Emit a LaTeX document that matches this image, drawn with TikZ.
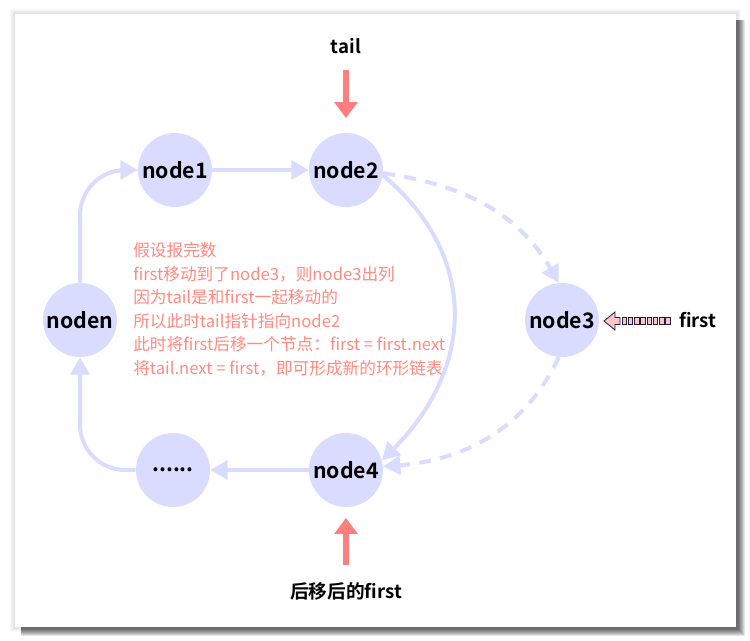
\documentclass[tikz,border=0pt]{standalone}
\usepackage{fontspec}
\setmainfont{Noto Sans CJK SC}[BoldFont={* Bold}]
\usepackage{xcolor}
\usetikzlibrary{arrows.meta}
\definecolor{ringblue}{HTML}{D9DCFE}
\definecolor{tailred}{HTML}{FF7F7F}
\definecolor{notered}{HTML}{FF8A80}
\definecolor{stripepink}{HTML}{FFC4C4}
\definecolor{stripeline}{HTML}{1F1F3F}
\newcommand{\stripebox}[1]{
	\draw[stripeline, fill=stripepink, line width=0.6pt] (#1,-317.5) rectangle (#1+4.5,-324.5);
}

\begin{document}
\begin{tikzpicture}[x=0.75pt, y=0.75pt,
	ring/.style={circle, fill=ringblue, minimum size=55.5pt, inner sep=0pt, font=\bfseries\fontsize{16}{18}\selectfont},
	link/.style={draw=ringblue, line width=3pt, -{Triangle[length=13pt,width=14pt]}},
	dashlink/.style={link, dash pattern=on 9pt off 7pt},
	ptr/.style={draw=tailred, line width=4.5pt, -{Triangle[length=12pt,width=17pt]}},
	lbl/.style={font=\bfseries\fontsize{14}{16}\selectfont}]
	\useasboundingbox (0,0) rectangle (750,-641);
	%shadow
	\foreach \s in {1,...,5}
		\fill[black, opacity=0.025] (15-\s,-14+\s) rectangle (736+\s,-627-\s);
	\foreach \s in {0,...,6}
		\fill[black, opacity=0.1] (21,-20) rectangle (745-\s,-636+\s);
	\fill[white] (15,-14) rectangle (736,-627);
	%
	%ring
	\node[ring] (node1) at (175,-170) {node1};
	\node[ring] (node2) at (346,-170) {node2};
	\node[ring] (node3) at (562,-320) {node3};
	\node[ring] (noden) at (80,-320) {noden};
	\node[ring] (dots) at (173,-470) {......};
	\node[ring] (node4) at (346,-470) {node4};
	%
	\draw[link] (node1) -- (node2);
	\draw[link] (node4) -- (dots);
	\draw[link, rounded corners=34pt] (noden) |- (node1);
	\draw[link, rounded corners=34pt] (dots) -| (noden);
	\draw[link] (node2.-8) to[out=-40, in=45, looseness=1.15] (node4.15);
	\draw[dashlink] (node2.-5) to[out=-8, in=120] (node3.95);
	\draw[dashlink] (node3.-95) to[out=-115, in=5] (node4.5);
	%
	%note
	\node[anchor=north west, align=left, inner sep=0pt, text=notered,
		font=\fontsize{12.5}{17.7}\selectfont] (note) at (133,-242)
	{假设报完数\\
	first移动到了node3，则node3出列\\
	因为tail是和first一起移动的\\
	所以此时tail指针指向node2\\
	此时将first后移一个节点：first = first.next\\
	将tail.next = first，即可形成新的环形链表};
	%
	%pointers
	\node[lbl] (taillbl) at (346,-46) {tail};
	\node[lbl] (movedlbl) at (346,-591) {后移后的first};
	\node[lbl] (firstlbl) at (698,-320) {first};
	\draw[ptr, shorten <=8.5pt, shorten >=11pt] (taillbl) -- (node2);
	\draw[ptr, shorten <=9pt, shorten >=8pt] (movedlbl) -- (node4);
	%
	\draw[stripeline, fill=stripepink, line width=0.6pt] (604,-321) -- (615,-312) -- (615,-317.5)
		-- (620,-317.5) -- (620,-324.5) -- (615,-324.5) -- (615,-330) -- cycle;
	\foreach \k in {0,...,7}{
		\stripebox{622+6.25*\k}
	}
\end{tikzpicture}
\end{document}
